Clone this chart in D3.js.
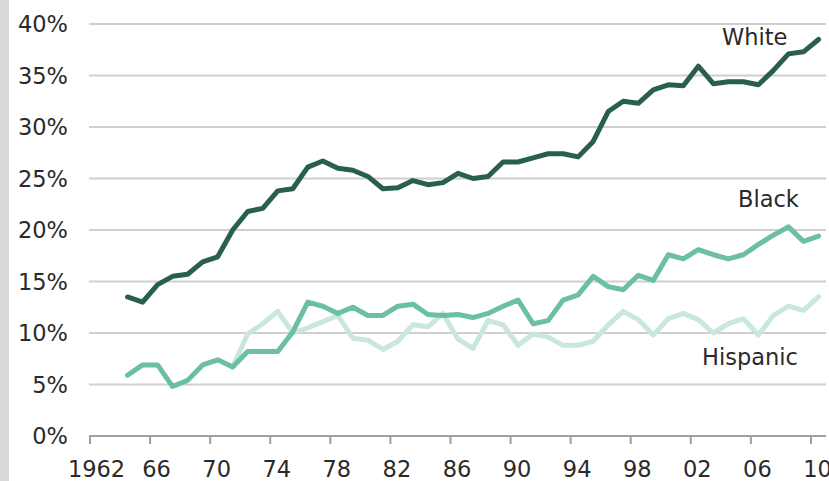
<!DOCTYPE html>
<meta charset="utf-8">
<style>
body { margin: 0; background: #fff; }
text { font-family: "DejaVu Sans", Verdana, sans-serif; font-size: 22.5px; fill: #2a2a2a; }
.grid line { stroke: #cfcfcf; stroke-width: 2px; }
.line { fill: none; stroke-width: 5px; stroke-linejoin: round; stroke-linecap: round; }
</style>
<svg width="829" height="481"></svg>
<script src="https://d3js.org/d3.v7.min.js"></script>
<script>

// share of adults (%) by group, per year
var years = d3.range(1962, 2011);
var whiteYears = d3.range(1964, 2011);
var white = [13.5,13.0,14.7,15.5,15.7,16.9,17.4,20.0,21.8,22.1,
  23.8,24.0,26.1,26.7,26.0,25.8,25.2,24.0,24.1,24.8,
  24.4,24.6,25.5,25.0,25.2,26.6,26.6,27.0,27.4,27.4,
  27.1,28.6,31.5,32.5,32.3,33.6,34.1,34.0,35.9,34.2,
  34.4,34.4,34.1,35.5,37.1,37.3,38.5];
var blackYears = d3.range(1964, 2011);
var black = [5.9,6.9,6.9,4.8,5.4,6.9,7.4,6.7,8.2,8.2,
  8.2,10.1,13.0,12.6,11.9,12.5,11.7,11.7,12.6,12.8,
  11.8,11.7,11.8,11.5,11.9,12.6,13.2,10.9,11.2,13.2,
  13.7,15.5,14.5,14.2,15.6,15.1,17.6,17.2,18.1,17.6,
  17.2,17.6,18.6,19.5,20.3,18.9,19.4];
var hispYears = d3.range(1971, 2011);
var hispanic = [6.7,9.9,10.9,12.1,10.0,10.5,11.1,11.7,9.5,9.3,
  8.4,9.2,10.8,10.6,11.9,9.4,8.5,11.2,10.8,8.8,
  9.9,9.6,8.8,8.8,9.2,10.8,12.1,11.3,9.8,11.4,
  11.9,11.3,10.0,10.9,11.4,9.8,11.7,12.6,12.2,13.5];
var yTicks = [0,5,10,15,20,25,30,35,40];
var xTicks = d3.range(1962, 2011, 4);

var svg = d3.select("svg");

// gray strip on the left
svg.append("rect").attr("x", 0).attr("y", 0).attr("width", 9).attr("height", 481).attr("fill", "#d9d9d9");

var x = d3.scaleBand().domain(years).range([90, 826]);
var y = d3.scaleLinear().domain([0, 40]).range([436, 24]);
var cx = function(yr) { return x(yr) + x.bandwidth() / 2; };

// gridlines
svg.append("g").attr("class", "grid")
  .selectAll("line").data(yTicks.filter(function(d) { return d > 0; }))
  .enter().append("line")
  .attr("x1", 89).attr("x2", 826)
  .attr("y1", function(d) { return y(d); }).attr("y2", function(d) { return y(d); });

// y labels
svg.append("g").selectAll("text").data(yTicks).enter().append("text")
  .attr("x", 68).attr("y", function(d) { return y(d); })
  .attr("dy", "0.36em").attr("text-anchor", "end")
  .text(function(d) { return d + "%"; });

// x axis
var xAxis = svg.append("g");
xAxis.append("line").attr("x1", 89).attr("x2", 826).attr("y1", 436).attr("y2", 436)
  .attr("stroke", "#a0a0a0").attr("stroke-width", 2);
xAxis.selectAll("line.tick").data(xTicks).enter().append("line")
  .attr("class", "tick")
  .attr("x1", function(d) { return x(d); }).attr("x2", function(d) { return x(d); })
  .attr("y1", 436).attr("y2", 444)
  .attr("stroke", "#a0a0a0").attr("stroke-width", 2);
xAxis.selectAll("text").data(xTicks).enter().append("text")
  .attr("x", function(d) { return cx(d) - 1; }).attr("y", 477)
  .attr("text-anchor", "middle")
  .text(function(d) { return d === 1962 ? "1962" : String(d).slice(2); });

var line = d3.line().x(function(d) { return cx(d[0]); }).y(function(d) { return y(d[1]); });

var series = [
  { name: "Hispanic", yrs: hispYears, vals: hispanic, color: "#c9e7dd", lx: 702, ly: 365 },
  { name: "Black", yrs: blackYears, vals: black, color: "#6bbfa3", lx: 738, ly: 207 },
  { name: "White", yrs: whiteYears, vals: white, color: "#295f4e", lx: 722, ly: 45 }
];

series.forEach(function(s) {
  svg.append("path").attr("class", "line")
    .attr("stroke", s.color)
    .attr("d", line(d3.zip(s.yrs, s.vals)));
  svg.append("text").attr("x", s.lx).attr("y", s.ly).text(s.name);
});

</script>
